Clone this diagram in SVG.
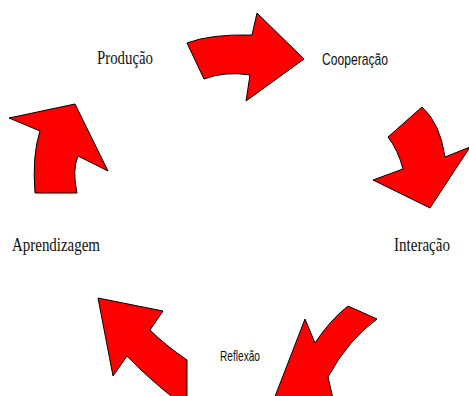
<svg xmlns="http://www.w3.org/2000/svg" width="469" height="396" viewBox="0 0 469 396">
<style>
.arrow{fill:#ff0000;stroke:#000;stroke-width:1;stroke-linejoin:miter}
.serif{font-family:"Liberation Serif","Times New Roman",serif;fill:#111}
.sans{font-family:"Liberation Sans Narrow","Liberation Sans",Arial,sans-serif;fill:#111}
</style>
<rect width="469" height="396" fill="#fff"/>
<g id="connectors">
<path id="arrow-producao-cooperacao" class="arrow" d="M187,43 Q210,34 252,35 L257,13 L304,59 L246,101 L250,75 Q225,71 204,79 Z"/>
<path id="arrow-cooperacao-interacao" class="arrow" d="M422,107 Q440,123 445,157 L470,147 L430,208 L373,180 L403,169 Q398,150 388,137 Z"/>
<path id="arrow-interacao-reflexao" class="arrow" d="M348,306 L377,319 Q348,340 328,377 L338,420 L262,430 L305,319 L315,343 Q330,320 348,306 Z"/>
<path id="arrow-reflexao-aprendizagem" class="arrow" d="M98,298 L163,311 L150,330 Q165,345 187,360 L187,400 L176,400 Q148,378 127,356 L113,376 Z"/>
<path id="arrow-aprendizagem-producao" class="arrow" d="M9,118 L75,104 L108,171 L78,156 Q72,170 77,193 L35,193 Q32,155 40,131 Z"/>
</g>
<g id="node-producao"><text class="serif" x="97" y="64" font-size="19" textLength="56" lengthAdjust="spacingAndGlyphs">Produção</text></g>
<g id="node-cooperacao"><text class="sans" x="322" y="65" font-size="17" textLength="66" lengthAdjust="spacingAndGlyphs">Cooperação</text></g>
<g id="node-interacao"><text class="serif" x="394" y="251" font-size="19" textLength="56" lengthAdjust="spacingAndGlyphs">Interação</text></g>
<g id="node-reflexao"><text class="sans" x="220" y="361" font-size="15" textLength="40" lengthAdjust="spacingAndGlyphs">Reflexão</text></g>
<g id="node-aprendizagem"><text class="serif" x="12" y="251" font-size="19" textLength="88" lengthAdjust="spacingAndGlyphs">Aprendizagem</text></g>
</svg>
